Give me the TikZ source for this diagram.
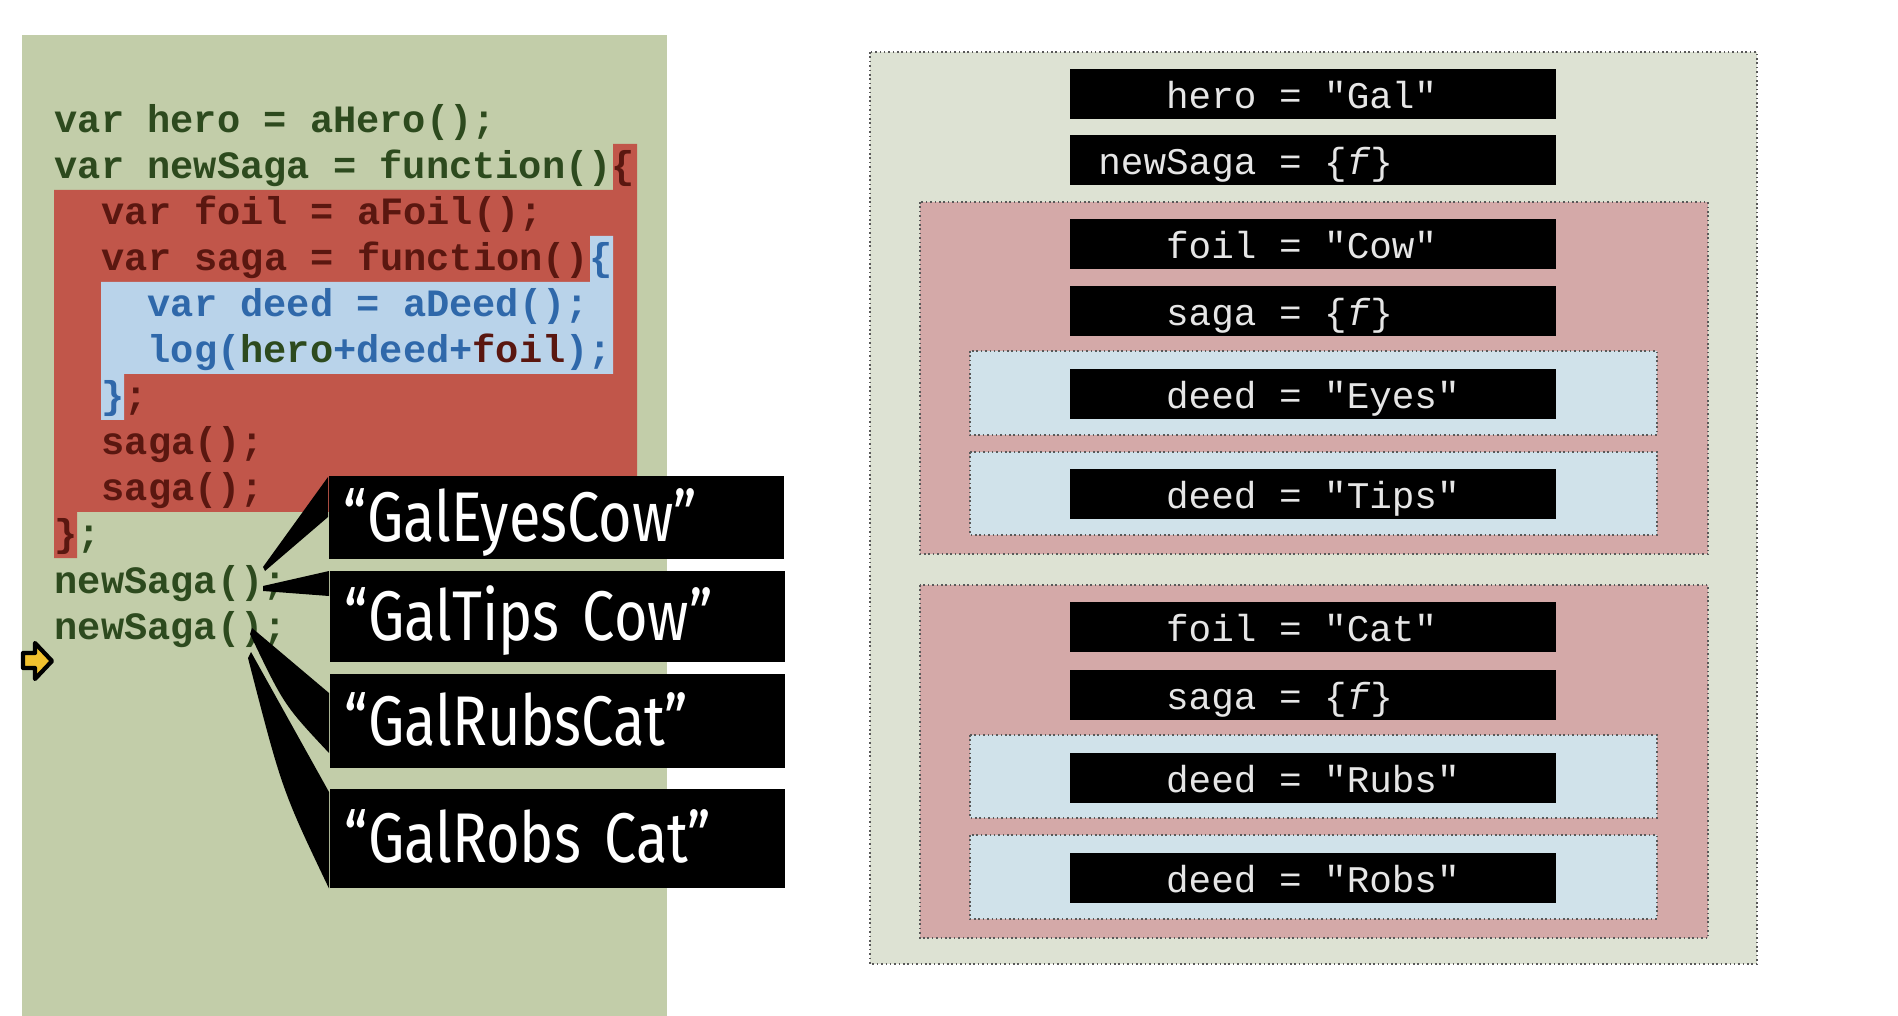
\documentclass[tikz,border=0pt]{standalone}
\usepackage{fontspec}
\setmonofont{Liberation Mono}
\newfontfamily\handfont[FakeStretch=0.82]{Fira Sans}
\usetikzlibrary{calc}

\definecolor{panelgreen}{HTML}{C2CDA9}
\definecolor{hlred}{HTML}{C1564A}
\definecolor{hlblue}{HTML}{B9D3EA}
\definecolor{codegreen}{HTML}{2D4A1E}
\definecolor{codered}{HTML}{5A1710}
\definecolor{codeblue}{HTML}{2F68AA}
\definecolor{scopegreen}{HTML}{DDE2D3}
\definecolor{scopered}{HTML}{D4A9A8}
\definecolor{scopeblue}{HTML}{D0E2EA}
\definecolor{slotgrey}{HTML}{E6E6E6}
\definecolor{arrowyellow}{HTML}{F2C12E}

\newcommand{\slotval}[2]{\makebox[44.9pt][r]{#1} = \makebox[57.8pt][l]{#2}}

\begin{document}
\begin{tikzpicture}[x=0.01cm, y=-0.01cm,
  code/.style={anchor=base west, inner sep=0pt, font=\ttfamily\bfseries\fontsize{11}{13}\selectfont},
  slot/.style={fill=black, text=slotgrey, minimum width=4.85cm, minimum height=0.49cm,
    inner sep=0pt, text height=10pt, text depth=2pt, font=\ttfamily\fontsize{10.7}{12}\selectfont},
  frame/.style={draw=black!65, line width=0.5pt, dash pattern=on 0.45pt off 0.8pt},
  saybox/.style={fill=black, text=white, anchor=north west, inner xsep=0.15cm, inner ysep=0pt,
    minimum width=4.55cm, text width=4.25cm, align=left, text height=14pt, text depth=0pt,
    font=\handfont\fontsize{20}{24}\selectfont},
  tail/.style={fill=black}]

  \fill[white] (0,0) rectangle (1898,1016);

  % code panel
  \fill[panelgreen] (22,35) rectangle (667,1016);
  \fill[hlred] (613,144) -- (637,144) -- (637,512) -- (77,512) -- (77,558) -- (54,558) -- (54,190) -- (613,190) -- cycle;
  \fill[hlblue] (590,236) -- (613,236) -- (613,374) -- (124,374) -- (124,420) -- (101,420) -- (101,282) -- (590,282) -- cycle;

  \node[code, text=codegreen] (l1) at (54,133) {var hero = aHero();};
  \node[code, text=codegreen] (l2) at (54,179) {var newSaga = function()\textcolor{codered}{\{}};
  \node[code, text=codered] (l3) at (101,225) {var foil = aFoil();};
  \node[code, text=codered] (l4) at (101,271) {var saga = function()\textcolor{codeblue}{\{}};
  \node[code, text=codeblue] (l5) at (147,317) {var deed = aDeed();};
  \node[code, text=codeblue] (l6) at (147,363) {log(\textcolor{codegreen}{hero}+deed+\textcolor{codered}{foil});};
  \node[code, text=codeblue] (l7) at (101,409) {\}\textcolor{codered}{;}};
  \node[code, text=codered] (l8) at (101,455) {saga();};
  \node[code, text=codered] (l9) at (101,501) {saga();};
  \node[code, text=codered] (l10) at (54,547) {\}\textcolor{codegreen}{;}};
  \node[code, text=codegreen] (l11) at (54,593) {newSaga();};
  \node[code, text=codegreen] (l12) at (54,639) {newSaga();};

  % current line marker
  \filldraw[fill=arrowyellow, draw=black, line width=1.2pt, line join=round]
    (23,653) -- (35,653) -- (35,643) -- (52,661) -- (35,679) -- (35,668) -- (23,668) -- cycle;

  % printed results
  \node[saybox, minimum height=0.83cm] (out1) at (328,475) {“GalEyesCow”};
  \node[saybox, minimum height=0.91cm] (out2) at (329,570) {“GalTips Cow”};
  \node[saybox, minimum height=0.94cm] (out3) at (329,673) {“GalRubsCat”};
  \node[saybox, minimum height=0.99cm] (out4) at (329,788) {“GalRobs Cat”};

  \coordinate (call1) at (263,567);
  \coordinate (call2) at (263,586);
  \coordinate (call3) at (252,628);
  \coordinate (call4) at (251,652);

  \fill[tail] (call1) -- ($(out1.north west)+(0,2)$) -- ($(out1.north west)+(0,42)$) -- ($(call1)+(2,4)$) -- cycle;
  \fill[tail] (call2) -- ($(out2.north west)+(0,1)$) -- ($(out2.north west)+(0,26)$) -- ($(call2)+(0,5)$) -- cycle;
  \fill[tail] (call3) -- ($(out3.north west)+(0,20)$) -- ($(out3.north west)+(0,80)$)
    .. controls (284,705) .. ($(call3)+(-2,6)$) -- cycle;
  \fill[tail] (call4) -- ($(out4.north west)+(0,4)$) -- (out4.south west)
    .. controls (282,790) .. ($(call4)+(-3,6)$) -- cycle;

  % scopes
  \filldraw[frame, fill=scopegreen] (870,52) rectangle (1757,964);
  \filldraw[frame, fill=scopered] (920,202) rectangle (1708,554);
  \filldraw[frame, fill=scopeblue] (970,351) rectangle (1657,435);
  \filldraw[frame, fill=scopeblue] (970,452) rectangle (1657,535);
  \filldraw[frame, fill=scopered] (920,585) rectangle (1708,938);
  \filldraw[frame, fill=scopeblue] (970,735) rectangle (1657,818);
  \filldraw[frame, fill=scopeblue] (970,835) rectangle (1657,919);

  \node[slot] (hero) at (1313,94) {\slotval{hero}{"Gal"}};
  \node[slot] (newsaga) at (1313,160) {\slotval{newSaga}{\{\textit{f}\}}};
  \node[slot] (foil1) at (1313,244) {\slotval{foil}{"Cow"}};
  \node[slot] (saga1) at (1313,311) {\slotval{saga}{\{\textit{f}\}}};
  \node[slot] (deed1) at (1313,394) {\slotval{deed}{"Eyes"}};
  \node[slot] (deed2) at (1313,494) {\slotval{deed}{"Tips"}};
  \node[slot] (foil2) at (1313,627) {\slotval{foil}{"Cat"}};
  \node[slot] (saga2) at (1313,695) {\slotval{saga}{\{\textit{f}\}}};
  \node[slot] (deed3) at (1313,778) {\slotval{deed}{"Rubs"}};
  \node[slot] (deed4) at (1313,878) {\slotval{deed}{"Robs"}};
\end{tikzpicture}
\end{document}
